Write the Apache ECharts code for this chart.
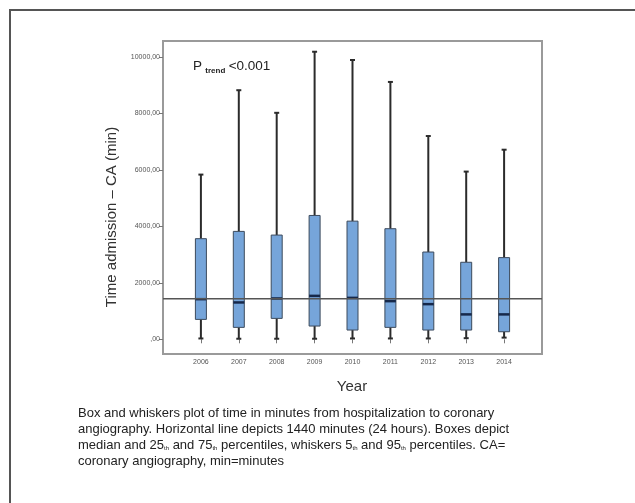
<!DOCTYPE html>
<html>
<head>
<meta charset="utf-8">
<script src="https://cdn.jsdelivr.net/npm/echarts@6/dist/echarts.min.js"></script>
<style>
html,body{margin:0;padding:0;background:#fff;}
#c{width:635px;height:503px;}
</style>
</head>
<body>
<div id="c"></div>
<script>
var years = [2006, 2007, 2008, 2009, 2010, 2011, 2012, 2013, 2014];
var p5 = [30, 20, 20, 20, 30, 30, 30, 40, 60];
var q1 = [705, 423, 741, 469, 328, 423, 328, 328, 268];
var medians = [1421, 1305, 1446, 1538, 1467, 1351, 1245, 882, 882];
var q3 = [3562, 3820, 3690, 4384, 4183, 3915, 3090, 2727, 2892];
var p95 = [5831, 8818, 8018, 10180, 9887, 9111, 7196, 5937, 6712];
var yTicks = [0, 2000, 4000, 6000, 8000, 10000];
var refMinutes = 1440;

var boxData = years.map(function (y, i) { return [y, p5[i], q1[i], medians[i], q3[i], p95[i]]; });

var FONT = '"Liberation Sans", Arial, sans-serif';
var chart = echarts.init(document.getElementById('c'), null, {renderer: 'canvas'});

function renderBox(params, api) {
  var x = api.value(0);
  var lo = api.coord([x, api.value(1)]);
  var b1 = api.coord([x, api.value(2)]);
  var md = api.coord([x, api.value(3)]);
  var b3 = api.coord([x, api.value(4)]);
  var hi = api.coord([x, api.value(5)]);
  var cx = lo[0];
  var hw = 5.5, cw = 2.5;
  var wStyle = {stroke: '#2b2b2b', lineWidth: 2};
  return {
    type: 'group',
    children: [
      {type: 'line', shape: {x1: cx, y1: hi[1], x2: cx, y2: b3[1]}, style: wStyle},
      {type: 'line', shape: {x1: cx, y1: b1[1], x2: cx, y2: lo[1]}, style: wStyle},
      {type: 'line', shape: {x1: cx - cw, y1: hi[1], x2: cx + cw, y2: hi[1]}, style: wStyle},
      {type: 'line', shape: {x1: cx - cw, y1: lo[1], x2: cx + cw, y2: lo[1]}, style: wStyle},
      {type: 'rect', shape: {x: cx - hw, y: b3[1], width: hw * 2, height: b1[1] - b3[1]},
       style: {fill: '#76a5da', stroke: '#3c4a5c', lineWidth: 1}},
      {type: 'line', shape: {x1: cx - hw, y1: md[1], x2: cx + hw, y2: md[1]},
       style: {stroke: '#16284a', lineWidth: 2.5}}
    ]
  };
}

chart.setOption({
  animation: false,
  backgroundColor: '#fff',
  grid: {left: 163, right: 93, top: 41, bottom: 149, show: true, borderColor: '#9a9a9a', borderWidth: 2, backgroundColor: 'transparent'},
  xAxis: {
    type: 'value', min: 2005, max: 2015,
    axisLine: {show: false},
    splitLine: {show: false},
    axisTick: {show: true, customValues: years, length: 4, lineStyle: {color: '#777', width: 1}},
    axisLabel: {customValues: years, fontSize: 7, color: '#555', fontFamily: FONT, margin: 5,
      formatter: function (v) { return String(v); }}
  },
  yAxis: {
    type: 'value', min: -520, max: 10560,
    axisLine: {show: false},
    splitLine: {show: false},
    axisTick: {show: true, customValues: yTicks, length: 4, lineStyle: {color: '#777', width: 1}},
    axisLabel: {customValues: yTicks, fontSize: 7, color: '#555', fontFamily: FONT, margin: 3,
      formatter: function (v) { return v === 0 ? ',00' : v + ',00'; }}
  },
  series: [
    {type: 'custom', renderItem: renderBox, data: boxData, z: 2,
     encode: {x: 0, y: [1, 2, 3, 4, 5]}},
    {type: 'line', data: [[2005, refMinutes], [2015, refMinutes]], symbol: 'none', z: 5,
     lineStyle: {color: '#555', width: 1.5}, silent: true}
  ],
  graphic: [
    {type: 'rect', shape: {x: 10, y: 10, width: 700, height: 600}, style: {fill: 'none', stroke: '#555', lineWidth: 2}, silent: true},
    {type: 'text', x: 112, y: 217, rotation: Math.PI / 2,
     style: {text: 'Time admission \u2013 CA (min)', fontSize: 15, fontFamily: FONT, fill: '#333', align: 'center', verticalAlign: 'middle'}},
    {type: 'text', x: 352, y: 387,
     style: {text: 'Year', fontSize: 15, fontFamily: FONT, fill: '#333', align: 'center', verticalAlign: 'middle'}},
    {type: 'text', x: 193, y: 66,
     style: {text: '{a|P} {b|trend} {a|<0.001}', fontFamily: FONT, fill: '#222', verticalAlign: 'middle',
       rich: {a: {fontSize: 13.5, fontFamily: FONT, fill: '#222', verticalAlign: 'bottom'},
              b: {fontSize: 8, fontWeight: 'bold', fontFamily: FONT, fill: '#222', verticalAlign: 'bottom', padding: [0, 0, -2, 0]}}}},
    {type: 'text', x: 78, y: 413,
     style: {text: 'Box and whiskers plot of time in minutes from hospitalization to coronary', fontSize: 13, fontFamily: FONT, fill: '#222', verticalAlign: 'middle'}},
    {type: 'text', x: 78, y: 429,
     style: {text: 'angiography. Horizontal line depicts 1440 minutes (24 hours). Boxes depict', fontSize: 13, fontFamily: FONT, fill: '#222', verticalAlign: 'middle'}},
    {type: 'text', x: 78, y: 445,
     style: {text: 'median and 25{s|th} and 75{s|th} percentiles, whiskers 5{s|th} and 95{s|th} percentiles. CA=', fontSize: 13, fontFamily: FONT, fill: '#222', verticalAlign: 'middle',
       rich: {s: {fontSize: 6, fontFamily: FONT, fill: '#222', verticalAlign: 'bottom'}}}},
    {type: 'text', x: 78, y: 461,
     style: {text: 'coronary angiography, min=minutes', fontSize: 13, fontFamily: FONT, fill: '#222', verticalAlign: 'middle'}}
  ]
});
</script>
</body>
</html>
